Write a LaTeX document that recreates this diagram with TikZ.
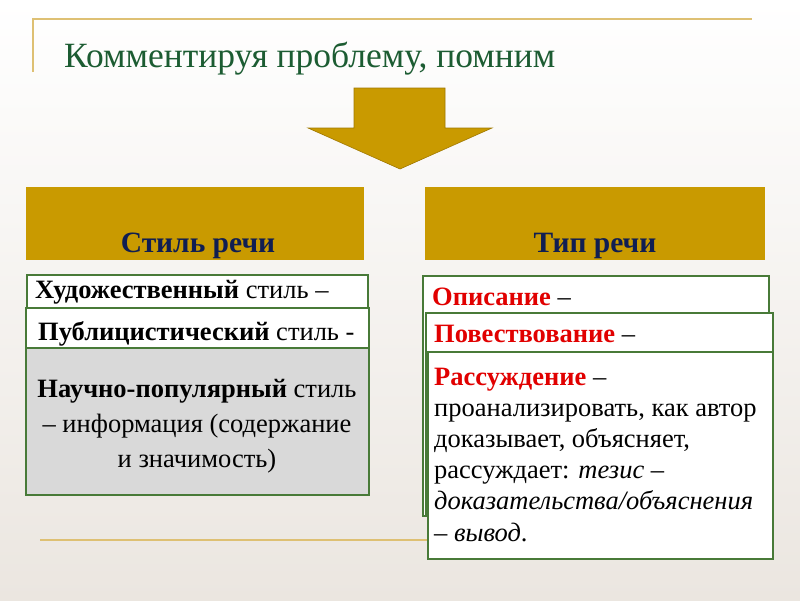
\documentclass[tikz,border=0pt]{standalone}
\usepackage{fontspec}
\setmainfont{Liberation Serif}
\usetikzlibrary{positioning}

\definecolor{bgbottom}{RGB}{235,230,224}
\definecolor{framegold}{RGB}{222,192,115}
\definecolor{headgold}{RGB}{201,154,0}
\definecolor{arrowedge}{RGB}{160,120,0}
\definecolor{headnavy}{RGB}{16,30,82}
\definecolor{titlegreen}{RGB}{28,92,50}
\definecolor{boxgreen}{RGB}{72,122,56}
\definecolor{boxgray}{RGB}{217,217,217}
\definecolor{typered}{RGB}{225,0,0}

\begin{document}
\begin{tikzpicture}[x=1pt,y=-1pt,
  header/.style={fill=headgold, anchor=north west, inner sep=0pt},
  headtext/.style={text=headnavy, anchor=base, inner sep=0pt, font=\fontsize{29.5}{34}\selectfont\bfseries},
  card/.style={draw=boxgreen, line width=1.5pt, fill=white, anchor=north west, inner sep=0pt},
  cardtext/.style={font=\fontsize{26.5}{31}\selectfont, inner sep=0pt}]

% Background
\shade[top color=white, bottom color=bgbottom] (0,0) rectangle (800,600);
\useasboundingbox (0,0) rectangle (800,600);

% Frame lines
\draw[framegold, line width=1.5pt] (33,72) -- (33,19) -- (752,19);
\draw[framegold, line width=1.5pt] (40,540) -- (430,540);

% Title
\node[anchor=base west, inner sep=0pt, text=titlegreen, font=\fontsize{35.5}{40}\selectfont] (title) at (64,67) {Комментируя проблему, помним};

% Arrow
\filldraw[fill=headgold, draw=arrowedge, line width=0.6pt]
  (354,88) -- (445,88) -- (445,128) -- (492,128) -- (400,169) -- (308,128) -- (354,128) -- cycle;

% Headers
\node[header, minimum width=338, minimum height=73] (stylehead) at (26,187) {};
\node[headtext] (stylelabel) at (198,252) {Стиль речи};
\node[header, minimum width=340, minimum height=73] (typehead) at (425,187) {};
\node[headtext] (typelabel) at (595,252) {Тип речи};

% Styles of speech
\node[card, minimum width=341, minimum height=33] (art) at (26,274) {};
\node[cardtext, anchor=base west] (arttext) at (35,298) {\textbf{Художественный} стиль –};
\node[card, minimum width=343, minimum height=40] (journal) at (25,307) {};
\node[cardtext, anchor=base west] (journaltext) at (38,340) {\textbf{Публицистический} стиль -};
\node[card, fill=boxgray, minimum width=343, minimum height=147] (science) at (25,347) {};
\node[cardtext, align=center, font=\fontsize{26.5}{35}\selectfont, anchor=north] (sciencetext) at (197,379)
  {\textbf{Научно-популярный} стиль\\– информация (содержание\\и значимость)};

% Types of speech
\node[card, minimum width=346, minimum height=240] (descr) at (422,275) {};
\node[cardtext, anchor=base west] (descrtext) at (432,305) {\textcolor{typered}{\textbf{Описание}} –};
\node[card, minimum width=347, minimum height=203] (narr) at (425,312) {};
\node[cardtext, anchor=base west] (narrtext) at (434,342) {\textcolor{typered}{\textbf{Повествование}} –};
\node[card, minimum width=345, minimum height=207] (reason) at (427,351) {};
\node[cardtext, align=left, font=\fontsize{26.5}{31.2}\selectfont, anchor=north west] (reasontext) at (434,367.5)
  {\textcolor{typered}{\textbf{Рассуждение}} –\\проанализировать, как автор\\доказывает, объясняет,\\рассуждает: \textit{тезис –}\\\textit{доказательства/объяснения}\\\textit{– вывод}.};

\end{tikzpicture}
\end{document}
